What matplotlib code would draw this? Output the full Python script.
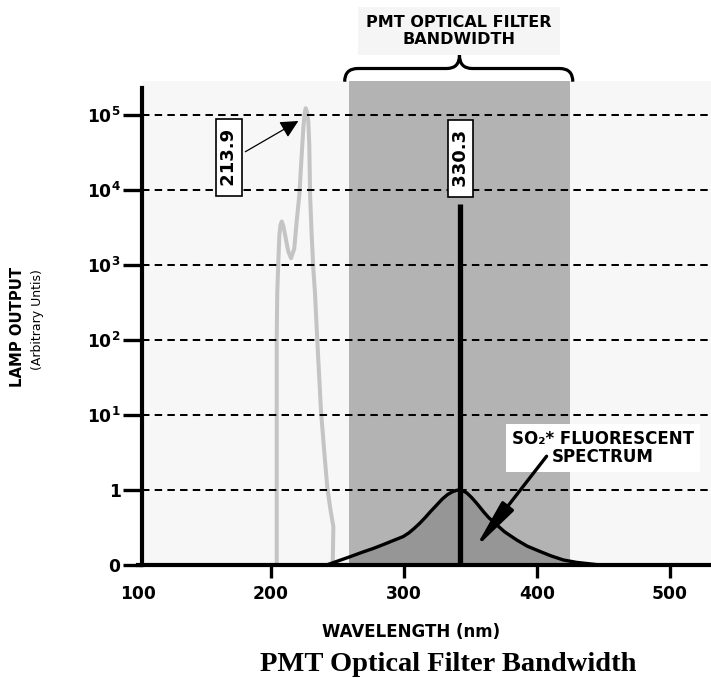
import matplotlib
matplotlib.use("Agg")
import matplotlib.pyplot as plt
from matplotlib.path import Path
from matplotlib.patches import PathPatch

# ---- data (y in "decade levels": 0 -> 0, 1 -> 1, 10^k -> k+1) ----
x_ticks = [100, 200, 300, 400, 500]
y_levels = [0, 1, 2, 3, 4, 5, 6]
y_labels = ["0", "1", r"$\mathbf{10^1}$", r"$\mathbf{10^2}$", r"$\mathbf{10^3}$",
            r"$\mathbf{10^4}$", r"$\mathbf{10^5}$"]
grid_levels = [1, 2, 3, 4, 5, 6]

lamp_nm = [204.5, 204.5, 204.9, 205.7, 206.5, 207.3, 208.3, 209.5, 210.8, 213.2,
           215.3, 217.7, 219.5, 221.5, 223.3, 224.5, 225.5, 226.3, 227.3, 228.3,
           229.0, 229.6, 230.8, 232.0, 233.3, 235.0, 237.8, 240.3, 242.5,
           244.8, 247.1, 246.6]
lamp_level = [0.0, 3.0, 3.62, 4.04, 4.40, 4.53, 4.58, 4.52, 4.40, 4.18,
              4.09, 4.22, 4.58, 4.93, 5.47, 5.82, 6.02, 6.09, 6.04, 5.91,
              5.60, 4.93, 4.40, 3.96, 3.62, 3.00, 2.05, 1.50, 1.04,
              0.75, 0.51, 0.02]

fl_nm = [242, 250, 259.6, 268, 277, 285, 292, 299.7, 304, 308, 312, 316, 320,
         324.8, 329, 333, 336.5, 339.5, 342, 344.5, 347.5, 351, 355, 360, 364,
         368.6, 376, 385, 393, 402.5, 411, 420, 430, 437.6, 447.6]
fl_val = [0.0, 0.05, 0.11, 0.165, 0.22, 0.275, 0.325, 0.38, 0.43, 0.49, 0.556, 0.63,
          0.71, 0.80, 0.88, 0.94, 0.975, 0.995, 1.0, 0.99, 0.96, 0.90, 0.82, 0.71,
          0.63, 0.556, 0.44, 0.333, 0.25, 0.18, 0.12, 0.067, 0.035, 0.02, 0.0]

band_nm = [259, 425]
line_nm = 342
line_level = 4.81
peak_label_lamp = "213.9"
peak_label_line = "330.3"

plt.rcParams['font.family'] = ['DejaVu Sans']
plt.rcParams['mathtext.fontset'] = 'dejavusans'

fig = plt.figure(figsize=(7.11, 6.78), dpi=100)
ax = fig.add_axes([137.7 / 711, 113 / 678, (711 - 137.7) / 711, 484 / 678])
xmin, xmax = 100, 531
spine_x = 103.3
ytop = 484 / 75.0
ax.set_xlim(xmin, xmax)
ax.set_ylim(0, ytop)
ax.set_facecolor('white')

ax.axvspan(spine_x, xmax, color='#f7f7f7', zorder=0, lw=0)
band = ax.axvspan(band_nm[0], band_nm[1], color='#b3b3b3', zorder=1, lw=0)

fill = ax.fill_between(fl_nm, 0, fl_val, color='#969696', lw=0, zorder=2)
fill.set_clip_path(band)

ax.plot(lamp_nm, lamp_level, color='#c4c4c4', lw=2.9, zorder=3,
        solid_joinstyle='round', solid_capstyle='butt')

ax.hlines(grid_levels, spine_x, xmax, colors='black', lw=1.45,
          linestyles=(0, (3.7, 2.6)), zorder=4)

ax.plot(fl_nm, fl_val, color='black', lw=2.4, zorder=5, solid_joinstyle='round')
ax.vlines([line_nm], 0, line_level, colors='black', lw=3.8, zorder=6)

# spines / ticks
for s in ['top', 'right']:
    ax.spines[s].set_visible(False)
ax.spines['left'].set_position(('data', spine_x))
ax.spines['left'].set_bounds(0, 6.36)
ax.spines['left'].set_linewidth(3.0)
ax.spines['bottom'].set_linewidth(3.0)
ax.spines['left'].set_zorder(7)
ax.spines['bottom'].set_zorder(7)

ax.set_xticks(x_ticks)
ax.set_xticklabels([str(v) for v in x_ticks])
ax.set_yticks(y_levels)
ax.set_yticklabels(y_labels)
ax.tick_params(axis='x', length=9.5, width=2.4, pad=5, labelsize=12.3)
ax.tick_params(axis='y', length=13.5, width=2.4, pad=2, labelsize=12.3)
for lab in ax.get_xticklabels() + ax.get_yticklabels():
    lab.set_fontweight('bold')
ax.xaxis.get_major_ticks()[0].tick1line.set_visible(False)

# labels in boxes
box = dict(boxstyle='square,pad=0.2', facecolor='white', edgecolor='black', lw=1.2)
ax.text(168.6, 5.43, " " + peak_label_lamp + " ", rotation=90, ha='center', va='center',
        fontsize=13, fontweight='bold', bbox=box, zorder=8)
ax.text(342.9, 5.42, " " + peak_label_line + " ", rotation=90, ha='center', va='center',
        fontsize=13, fontweight='bold', bbox=box, zorder=8)

ax.annotate("", xy=(220.8, 5.92), xytext=(180.9, 5.51),
            arrowprops=dict(arrowstyle='-|>,head_length=0.6,head_width=0.3', lw=0.9,
                            color='black', shrinkA=0, shrinkB=0, mutation_scale=18),
            zorder=8)

ax.text(449.8, 1.56, "SO₂* FLUORESCENT\nSPECTRUM", ha='center', va='center',
        fontsize=12, fontweight='bold', linespacing=1.05, zorder=8,
        bbox=dict(boxstyle='square,pad=0.35', facecolor='white', edgecolor='none'))
ax.annotate("", xy=(353.5, 0.22), xytext=(407.4, 1.45),
            arrowprops=dict(arrowstyle='-|>,head_length=1.5,head_width=0.22', lw=2.4,
                            color='black', shrinkA=0, shrinkB=0, mutation_scale=20),
            zorder=9)

# brace above filter band
bl, br, bc = 255.6, 427.1, 341.9
yb, ym, yt = 6.444, 6.62, 6.80
verts = [(bl, yb), (bl, ym), (bl + 10, ym), (bc - 9.6, ym), (bc, ym), (bc, yt),
         (bc, ym), (bc + 9.6, ym), (br - 10, ym), (br, ym), (br, yb)]
codes = [Path.MOVETO, Path.CURVE3, Path.CURVE3, Path.LINETO, Path.CURVE3, Path.CURVE3,
         Path.CURVE3, Path.CURVE3, Path.LINETO, Path.CURVE3, Path.CURVE3]
ax.add_patch(PathPatch(Path(verts, codes), fill=False, lw=2.3, edgecolor='black',
                       clip_on=False, zorder=8, capstyle='butt'))

fig.text(459 / 711, 1 - 31 / 678, "PMT OPTICAL FILTER\nBANDWIDTH", ha='center', va='center',
         fontsize=11.5, fontweight='bold', linespacing=1.15,
         bbox=dict(boxstyle='square,pad=0.5', facecolor='#f5f5f5', edgecolor='none'))

fig.text(17.5 / 711, 1 - 327 / 678, "LAMP OUTPUT", rotation=90, ha='center', va='center',
         fontsize=10.7, fontweight='bold')
fig.text(37 / 711, 1 - 320 / 678, "(Arbitrary Untis)", rotation=90, ha='center', va='center',
         fontsize=9)
fig.text(411 / 711, 1 - 632 / 678, "WAVELENGTH (nm)", ha='center', va='center',
         fontsize=12, fontweight='bold')
fig.text(448 / 711, 1 - 671 / 678, "PMT Optical Filter Bandwidth", ha='center', va='baseline',
         fontsize=20.5, fontweight='bold', family=['Liberation Serif', 'DejaVu Serif'])

fig.savefig("out.png", dpi=100)
